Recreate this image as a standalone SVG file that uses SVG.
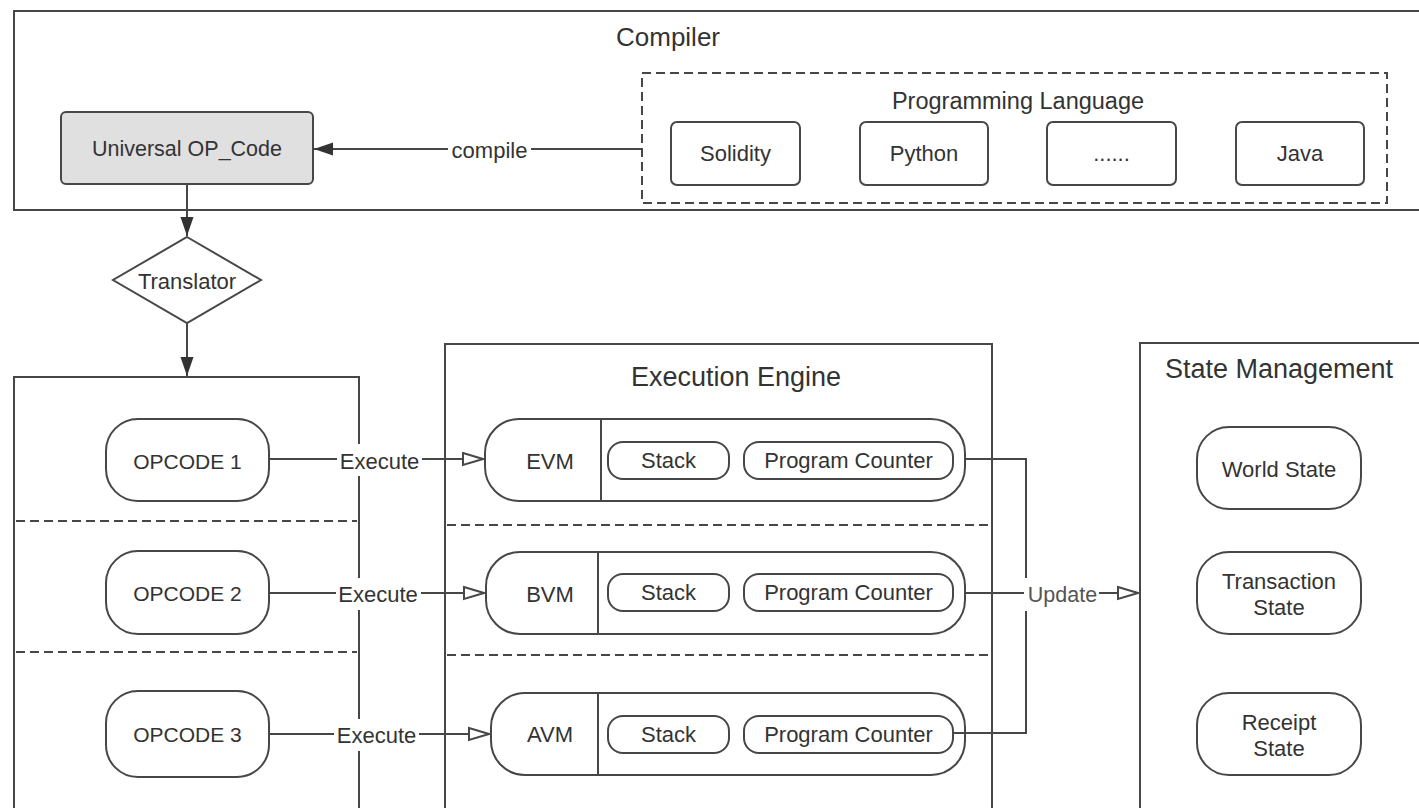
<svg xmlns="http://www.w3.org/2000/svg" width="1419" height="808" viewBox="0 0 1419 808">
<defs>
<style>
.box{fill:#fff;stroke:#474747;stroke-width:2}
.grey{fill:#e0e0e0;stroke:#474747;stroke-width:2}
.dash{fill:none;stroke:#474747;stroke-width:2;stroke-dasharray:9 5}
.ln{fill:none;stroke:#474747;stroke-width:2}
.t{font-family:"Liberation Sans",Arial,sans-serif;font-size:22px;fill:#333;text-anchor:middle;dominant-baseline:central}
.title{font-size:27px}
.lbl{fill:#fff;stroke:none}
</style>
<marker id="fill" markerUnits="userSpaceOnUse" markerWidth="20" markerHeight="14" refX="19" refY="7" orient="auto">
<path d="M0,0.5 L19,7 L0,13.5 Z" fill="#333"/>
</marker>
<marker id="hollow" markerUnits="userSpaceOnUse" markerWidth="24" markerHeight="16" refX="22" refY="8" orient="auto">
<path d="M2,2 L22,8 L2,14 Z" fill="#fff" stroke="#474747" stroke-width="2"/>
</marker>
</defs>
<rect width="1419" height="808" fill="#fff"/>

<g id="compiler">
<rect class="box" x="14" y="11" width="1420" height="199"/>
<text class="t" x="668" y="37" style="font-size:26px">Compiler</text>
</g>
<g id="programming-language">
<rect class="dash" x="642" y="73" width="745" height="130"/>
<text class="t" x="1018" y="101" style="font-size:23.5px">Programming Language</text>
</g>
<g id="solidity"><rect class="box" x="671" y="122" width="129" height="63" rx="6"/><text class="t" x="735.5" y="153.5">Solidity</text></g>
<g id="python"><rect class="box" x="860" y="122" width="128" height="63" rx="6"/><text class="t" x="924" y="153.5">Python</text></g>
<g id="more"><rect class="box" x="1047" y="122" width="129" height="63" rx="6"/><text class="t" x="1111.5" y="153.5">......</text></g>
<g id="java"><rect class="box" x="1236" y="122" width="128" height="63" rx="6"/><text class="t" x="1300" y="153.5">Java</text></g>

<g id="universal-opcode">
<rect class="grey" x="61" y="112" width="252" height="72" rx="5"/>
<text class="t" x="187" y="149" style="font-size:21.5px">Universal OP_Code</text>
</g>

<g id="translator">
<polygon class="box" points="187,237 261,280 187,323 113,280"/>
<text class="t" x="187" y="281.5">Translator</text>
</g>

<g id="opcodes">
<rect class="box" x="14" y="377" width="345" height="460"/>
<line class="dash" x1="16" y1="521" x2="357" y2="521"/>
<line class="dash" x1="16" y1="652" x2="357" y2="652"/>
</g>
<g id="opcode1"><rect class="box" x="106" y="419" width="163" height="82" rx="32"/><text class="t" x="187.5" y="461" style="font-size:21px">OPCODE 1</text></g>
<g id="opcode2"><rect class="box" x="106" y="551" width="163" height="83" rx="32"/><text class="t" x="187.5" y="593" style="font-size:21px">OPCODE 2</text></g>
<g id="opcode3"><rect class="box" x="106" y="691" width="163" height="86" rx="32"/><text class="t" x="187.5" y="734" style="font-size:21px">OPCODE 3</text></g>

<g id="execution-engine">
<rect class="box" x="445" y="344" width="547" height="500"/>
<text class="t title" x="736" y="377">Execution Engine</text>
<line class="dash" x1="447" y1="525" x2="988" y2="525"/>
<line class="dash" x1="447" y1="655" x2="988" y2="655"/>
</g>
<g id="evm">
<rect class="box" x="485" y="419" width="480" height="82" rx="34"/>
<line class="ln" x1="601" y1="419" x2="601" y2="501"/>
<text class="t" x="550" y="461">EVM</text>
<rect class="box" x="608" y="442" width="121" height="37" rx="15"/><text class="t" x="668.5" y="460.5">Stack</text>
<rect class="box" x="744" y="442" width="209" height="37" rx="15"/><text class="t" x="848.5" y="460.5">Program Counter</text>
</g>
<g id="bvm">
<rect class="box" x="486" y="552" width="479" height="82" rx="34"/>
<line class="ln" x1="598" y1="552" x2="598" y2="634"/>
<text class="t" x="550" y="594">BVM</text>
<rect class="box" x="608" y="574" width="121" height="37" rx="15"/><text class="t" x="668.5" y="592.5">Stack</text>
<rect class="box" x="744" y="574" width="209" height="37" rx="15"/><text class="t" x="848.5" y="592.5">Program Counter</text>
</g>
<g id="avm">
<rect class="box" x="491" y="693" width="474" height="82" rx="34"/>
<line class="ln" x1="598" y1="693" x2="598" y2="775"/>
<text class="t" x="550" y="734">AVM</text>
<rect class="box" x="608" y="716" width="121" height="37" rx="15"/><text class="t" x="668.5" y="734.5">Stack</text>
<rect class="box" x="744" y="716" width="209" height="37" rx="15"/><text class="t" x="848.5" y="734.5">Program Counter</text>
</g>

<g id="state-management">
<rect class="box" x="1140" y="343" width="300" height="500"/>
<text class="t title" x="1279" y="369">State Management</text>
</g>
<g id="world-state"><rect class="box" x="1197" y="427" width="164" height="82" rx="32"/><text class="t" x="1279" y="469">World State</text></g>
<g id="transaction-state"><rect class="box" x="1197" y="552" width="164" height="82" rx="32"/><text class="t" x="1279" y="581">Transaction</text><text class="t" x="1279" y="607.5">State</text></g>
<g id="receipt-state"><rect class="box" x="1197" y="693" width="164" height="82" rx="32"/><text class="t" x="1279" y="722">Receipt</text><text class="t" x="1279" y="748.5">State</text></g>

<g id="connectors">
<line class="ln" x1="642" y1="149" x2="314" y2="149" marker-end="url(#fill)"/>
<rect class="lbl" x="448" y="136" width="83" height="28"/>
<text class="t" x="489.5" y="150">compile</text>

<line class="ln" x1="187" y1="185" x2="187" y2="236" marker-end="url(#fill)"/>
<line class="ln" x1="187" y1="323" x2="187" y2="376" marker-end="url(#fill)"/>

<line class="ln" x1="269" y1="459" x2="483" y2="459" marker-end="url(#hollow)"/>
<rect class="lbl" x="337" y="444" width="85" height="32"/>
<text class="t" x="379.5" y="461">Execute</text>
<line class="ln" x1="269" y1="593" x2="484" y2="593" marker-end="url(#hollow)"/>
<rect class="lbl" x="336" y="578" width="85" height="32"/>
<text class="t" x="378" y="594">Execute</text>
<line class="ln" x1="269" y1="734" x2="489" y2="734" marker-end="url(#hollow)"/>
<rect class="lbl" x="334" y="719" width="85" height="32"/>
<text class="t" x="376.5" y="735">Execute</text>

<polyline class="ln" points="965,459 1026,459 1026,733 953,733"/>
<line class="ln" x1="965" y1="593" x2="1138" y2="593" marker-end="url(#hollow)"/>
<rect class="lbl" x="1024" y="578" width="75" height="33"/>
<text class="t" x="1062.5" y="595" style="font-size:21.5px;fill:#555">Update</text>
</g>
</svg>
